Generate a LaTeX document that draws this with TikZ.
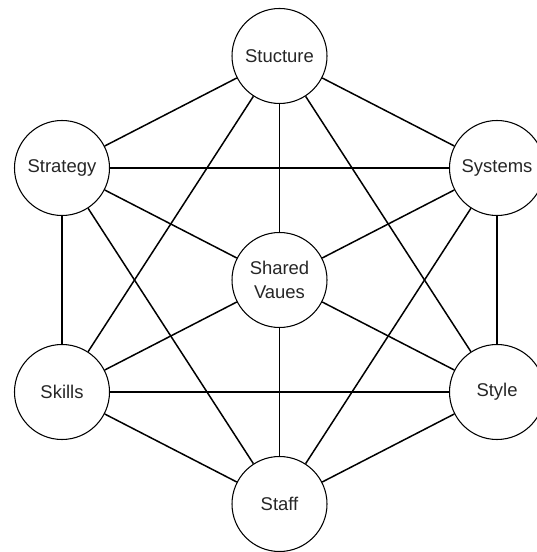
\documentclass[tikz,border=0pt]{standalone}
\usepackage{fontspec}
\setmainfont{Liberation Sans}
\usetikzlibrary{positioning}

\begin{document}
\begin{tikzpicture}[line width=0.85pt, node distance=4.48cm, on grid,
  factor/.style={circle, draw, fill=white, line width=0.6pt, minimum size=1.9cm,
    inner sep=0pt, align=center, text=black!85,
    font=\fontsize{10.5}{14}\selectfont}]
\useasboundingbox (-5.59,-5.44) rectangle (5.13,5.6);

\node[factor] (shared) at (0,0) {Shared\\Vaues};
\node[factor, above=of shared] (structure) {Stucture};
\node[factor, below=of shared] (staff) {Staff};
\node[factor, above left=2.24cm and 4.35cm of shared] (strategy) {Strategy};
\node[factor, above right=2.24cm and 4.35cm of shared] (systems) {Systems};
\node[factor, below left=2.24cm and 4.35cm of shared] (skills) {Skills};
\node[factor, below right=2.24cm and 4.35cm of shared] (style) {Style};

% Links
\foreach \a/\b in {structure/strategy, structure/systems, structure/shared,
                   structure/skills, structure/style,
                   strategy/systems, strategy/shared, strategy/skills, strategy/staff,
                   systems/shared, systems/style, systems/staff,
                   skills/shared, skills/style, skills/staff,
                   style/shared, style/staff, shared/staff} {
  \draw (\a) -- (\b);
}
\end{tikzpicture}
\end{document}
